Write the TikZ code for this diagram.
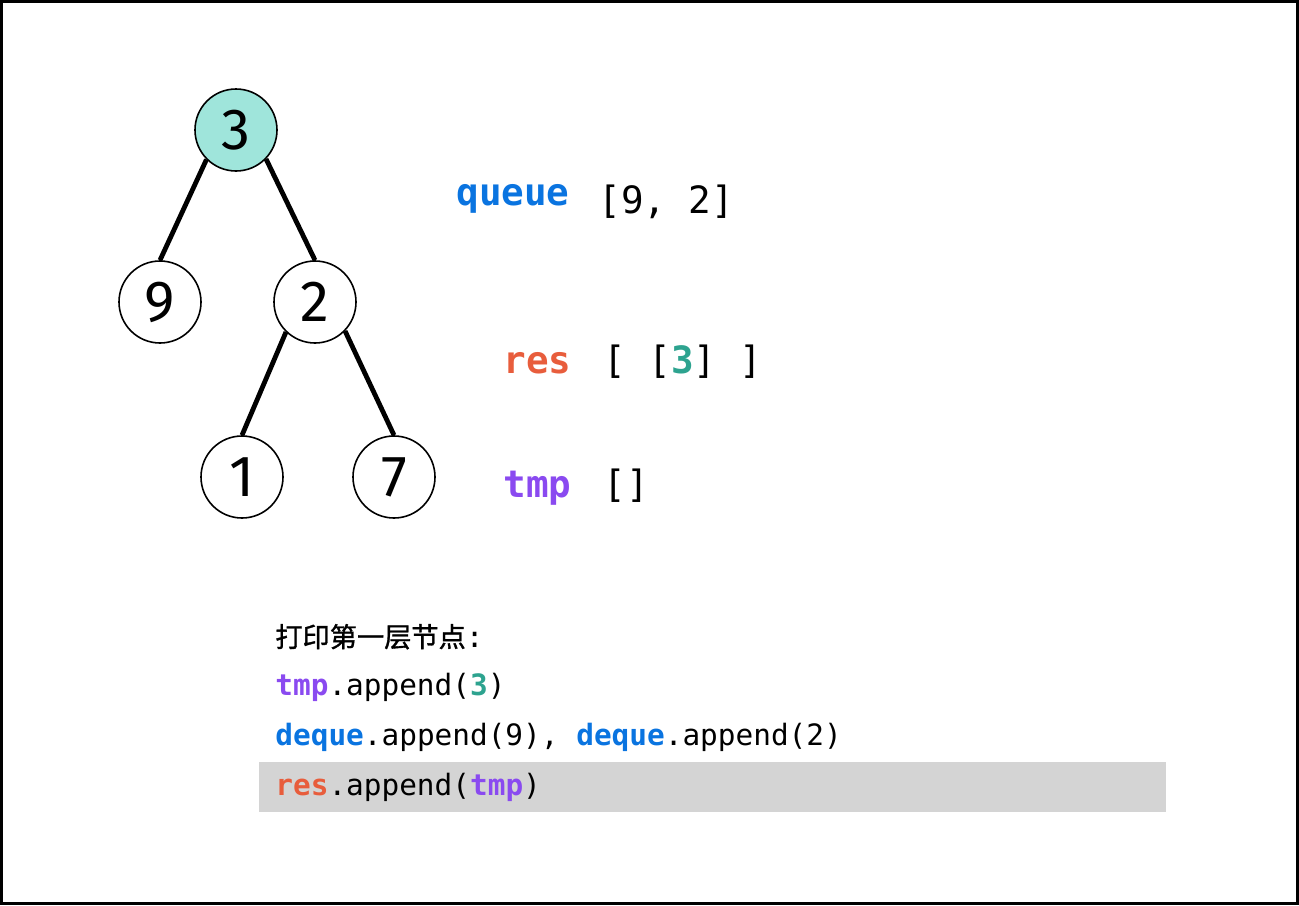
\documentclass[tikz,border=0pt]{standalone}
\usepackage{fontspec}
\setmainfont{Fira Sans}
\setmonofont{DejaVu Sans Mono}
\newfontfamily\cjk{Noto Sans CJK SC}[FakeBold=1.2]
\usepackage{tikz}
\usepackage{xcolor}

\definecolor{rootfill}{HTML}{9FE5DB}
\definecolor{qblue}{HTML}{0A74E0}
\definecolor{resred}{HTML}{E85D3C}
\definecolor{tmppurple}{HTML}{8A4AF0}
\definecolor{numteal}{HTML}{2DA38F}
\definecolor{hilite}{HTML}{D4D4D4}

\newcommand{\kw}[2]{\textcolor{#1}{\bfseries #2}}

\begin{document}
\begin{tikzpicture}[x=0.5pt, y=-0.5pt]
    	\tikzstyle{place}=[circle, draw=black, line width=0.8pt, fill=white, minimum size=41pt, inner sep=0pt, font=\fontsize{29}{30}\selectfont]
    	\tikzstyle{edge}=[line width=2.4pt]
    	\tikzstyle{word}=[anchor=base west, inner sep=0pt, font=\ttfamily\fontsize{18.8}{20}\selectfont]
    	\tikzstyle{code}=[anchor=base west, inner sep=0pt, font=\ttfamily\fontsize{14.7}{16}\selectfont]
    	
    	\useasboundingbox (0,0) rectangle (1299,905);
    	% frame
    	\draw[line width=1.5pt] (1.5,1.5) rectangle (1297.5,903.5);
    	
    	% Tree
    	\node[place, fill=rootfill] at (236,130) (node_3) {3};
    	\foreach \v/\x/\y in {9/160/302, 2/315/302, 1/242/477, 7/394/477}
    		\node[place] at (\x,\y) (node_\v) {\v};
    	\foreach \a/\b/\ang in {3/9/225, 3/2/316, 2/1/226, 2/7/316}
    		\draw[edge] (node_\a.\ang) -- (node_\b.north);
    	
    	% Variables
    	\node[word] at (456,205) (queue_name) {\kw{qblue}{queue}};
    	\node[word] at (598,213) (queue_val) {[9, 2]};
    	\node[word] at (503,373) (res_name) {\kw{resred}{res}};
    	\node[word] at (603,373) (res_val) {[ [\kw{numteal}{3}] ]};
    	\node[word] at (503,497) (tmp_name) {\kw{tmppurple}{tmp}};
    	\node[word] at (603,497) (tmp_val) {[]};
    	
    	% -------------------------------------------%
    	%                 Code lines                 %
    	%--------------------------------------------%
    	\fill[hilite] (259,762) rectangle (1166,812);
    	\node[code] at (275,647) (title) {{\cjk\fontsize{13.6}{15}\selectfont 打印第一层节点}:};
    	\node[code] at (275,695) (line_1) {\kw{tmppurple}{tmp}.append(\kw{numteal}{3})};
    	\node[code] at (275,745) (line_2) {\kw{qblue}{deque}.append(9), \kw{qblue}{deque}.append(2)};
    	\node[code] at (275,795) (line_3) {\kw{resred}{res}.append(\kw{tmppurple}{tmp})};
    	
\end{tikzpicture}
\end{document}
